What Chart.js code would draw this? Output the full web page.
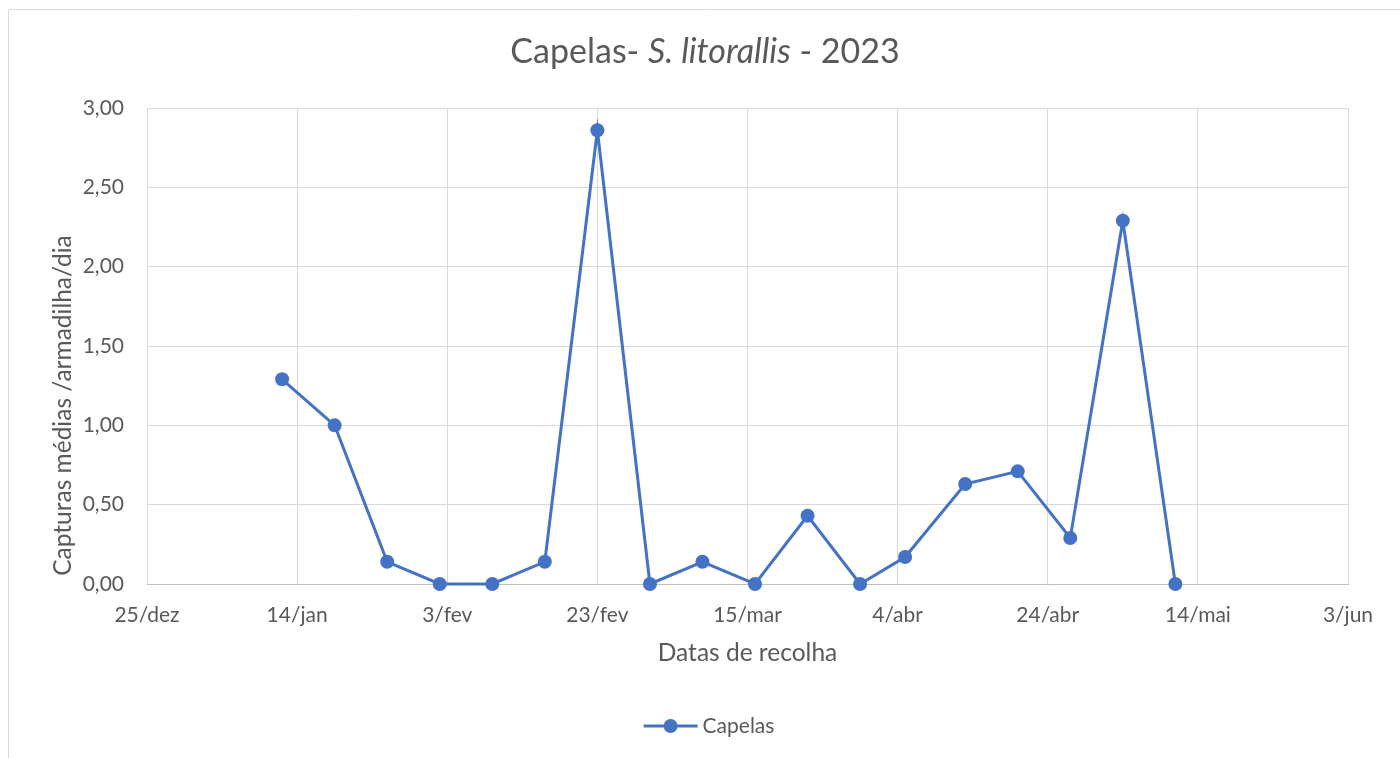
<!DOCTYPE html>
<html lang="pt">
<head>
  <meta charset="UTF-8" />
  <title>Capelas- S. litorallis - 2023</title>
  <style>
    html, body { margin: 0; padding: 0; background: #fff; }
    #wrap { width: 1400px; height: 758px; }
  </style>
</head>
<body>
<div id="wrap"><canvas id="chart" width="1400" height="758"></canvas></div>

<script src="https://cdn.jsdelivr.net/npm/chart.js"></script>
<script>
  // datas de recolha e capturas médias por armadilha e dia
  const startDate = '2022-12-25';
  const collectionDates = [
    '2023-01-12', '2023-01-19', '2023-01-26', '2023-02-02', '2023-02-09', '2023-02-16',
    '2023-02-23', '2023-03-02', '2023-03-09', '2023-03-16', '2023-03-23', '2023-03-30',
    '2023-04-05', '2023-04-13', '2023-04-20', '2023-04-27', '2023-05-04', '2023-05-11'
  ];
  const captures = [
    1.29, 1.00, 0.14, 0.00, 0.00, 0.14,
    2.86, 0.00, 0.14, 0.00, 0.43, 0.00,
    0.17, 0.63, 0.71, 0.29, 2.29, 0.00
  ];
  const xTickLabels = ['25/dez', '14/jan', '3/fev', '23/fev', '15/mar', '4/abr', '24/abr', '14/mai', '3/jun'];
  const seriesName = 'Capelas';
  const titleParts = [['Capelas- ', 'normal'], ['S. litorallis', 'italic'], [' - 2023', 'normal']];
  const xTitle = 'Datas de recolha';
  const yTitle = 'Capturas médias /armadilha/dia';

  const FONT = 'Lato';
  const TEXT = '#595959';
  const BLUE = '#4472C4';

  function dayOf(s) {
    return Math.round((Date.parse(s) - Date.parse(startDate)) / 86400000);
  }

  const points = collectionDates.map((d, i) => ({ x: dayOf(d), y: captures[i] }));

  // moldura, título, título do eixo y e legenda à moda do Excel
  const excelDecor = {
    id: 'excelDecor',
    beforeDraw(chart) {
      const ctx = chart.ctx;
      ctx.save();
      ctx.strokeStyle = '#d9d9d9';
      ctx.lineWidth = 1;
      ctx.beginPath();
      ctx.moveTo(8.5, chart.height);
      ctx.lineTo(8.5, 9.5);
      ctx.lineTo(chart.width, 9.5);
      ctx.stroke();
      ctx.restore();
    },
    afterDraw(chart) {
      const ctx = chart.ctx;
      ctx.save();
      ctx.fillStyle = TEXT;

      // título
      const size = 34;
      let total = 0;
      titleParts.forEach(([t, st]) => {
        ctx.font = `${st} 400 ${size}px ${FONT}`;
        total += ctx.measureText(t).width;
      });
      let x = 705 - total / 2;
      ctx.textBaseline = 'alphabetic';
      ctx.textAlign = 'left';
      titleParts.forEach(([t, st]) => {
        ctx.font = `${st} 400 ${size}px ${FONT}`;
        ctx.fillText(t, x, 63);
        x += ctx.measureText(t).width;
      });

      // título do eixo y
      ctx.save();
      ctx.translate(63.5, 405.5);
      ctx.rotate(-Math.PI / 2);
      ctx.font = `24.5px ${FONT}`;
      ctx.textAlign = 'center';
      ctx.textBaseline = 'middle';
      ctx.fillText(yTitle, 0, 0);
      ctx.restore();

      // legenda
      const ds = chart.data.datasets[0];
      ctx.font = `21px ${FONT}`;
      const tw = ctx.measureText(ds.label).width;
      const lineW = 54, gap = 5;
      const lx = 709 - (lineW + gap + tw) / 2;
      const ly = 726;
      ctx.strokeStyle = ds.borderColor;
      ctx.lineWidth = 3;
      ctx.beginPath();
      ctx.moveTo(lx, ly);
      ctx.lineTo(lx + lineW, ly);
      ctx.stroke();
      ctx.fillStyle = ds.backgroundColor;
      ctx.beginPath();
      ctx.arc(lx + lineW / 2, ly, 7, 0, Math.PI * 2);
      ctx.fill();
      ctx.fillStyle = TEXT;
      ctx.textAlign = 'left';
      ctx.textBaseline = 'middle';
      ctx.fillText(ds.label, lx + lineW + gap, ly);
      ctx.restore();
    }
  };

  new Chart(document.getElementById('chart'), {
    type: 'line',
    data: {
      datasets: [{
        label: seriesName,
        data: points,
        borderColor: BLUE,
        backgroundColor: BLUE,
        borderWidth: 3,
        pointRadius: 7,
        pointHoverRadius: 7,
        pointBorderWidth: 0,
        tension: 0,
        clip: false
      }]
    },
    options: {
      responsive: false,
      animation: false,
      events: [],
      layout: { padding: { top: 108, right: 52, bottom: 0, left: 0 } },
      plugins: {
        legend: { display: false },
        title: { display: false },
        tooltip: { enabled: false }
      },
      scales: {
        x: {
          type: 'linear',
          min: 0,
          max: 160,
          ticks: {
            stepSize: 20,
            autoSkip: false,
            maxRotation: 0,
            padding: 19,
            color: TEXT,
            font: { family: FONT, size: 21 },
            callback: (v, i) => xTickLabels[i]
          },
          grid: { color: '#d9d9d9', drawTicks: false },
          border: { color: '#bfbfbf', width: 1 },
          title: {
            display: true,
            text: xTitle,
            color: TEXT,
            font: { family: FONT, size: 24.5 },
            padding: { top: 0, bottom: 90 }
          },
          afterFit: s => { s.height = 174; }
        },
        y: {
          min: 0,
          max: 3,
          ticks: {
            stepSize: 0.5,
            padding: 23,
            color: TEXT,
            font: { family: FONT, size: 21 },
            callback: v => v.toFixed(2).replace('.', ',')
          },
          grid: { color: '#d9d9d9', drawTicks: false },
          border: { display: false },
          afterFit: s => { s.width = 147; }
        }
      }
    },
    plugins: [excelDecor]
  });
</script>
</body>
</html>
